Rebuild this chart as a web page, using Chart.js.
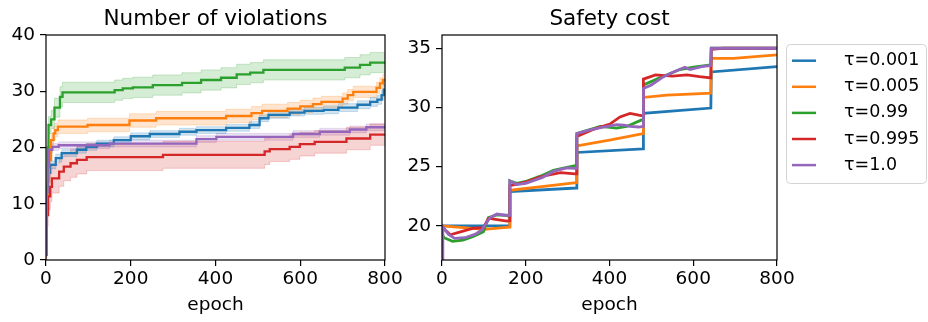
<!DOCTYPE html>
<html><head><meta charset="utf-8">
<script src="https://cdn.jsdelivr.net/npm/chart.js@4"></script>
<style>
html,body{margin:0;padding:0;background:#fff;}
#wrap{position:relative;width:928px;height:322px;overflow:hidden;background:#fff;}
canvas{position:absolute;top:0;}
</style></head><body>
<div id="wrap">
<canvas id="c1" width="410" height="322" style="left:0px"></canvas>
<canvas id="c2" width="528" height="322" style="left:400px"></canvas>
</div>
<script>
// ---------- shared ----------
const seriesLabels = ['τ=0.001', 'τ=0.005', 'τ=0.99', 'τ=0.995', 'τ=1.0'];
const seriesColors = ['#1f77b4', '#ff7f0e', '#2ca02c', '#d62728', '#9467bd'];
const xTicks = [0, 200, 400, 600, 800];
const yTicksLeft = [0, 10, 20, 30, 40];
const yTicksRight = [20, 25, 30, 35];
const titleLeft = 'Number of violations';
const titleRight = 'Safety cost';
const xTitle = 'epoch';

// ---------- Number of violations (step curves: value starts at epoch) ----------
const vioEpochBlue = [0, 2, 5, 10, 23, 37, 73, 95, 120, 160, 200, 245, 315, 355, 425, 480, 504, 525, 575, 610, 655, 690, 735, 765, 782, 792, 797, 800];
const vioBlue      = [1, 12, 15.5, 16.9, 18.1, 19.0, 19.6, 20.1, 20.7, 21.3, 22.0, 22.4, 22.8, 23.1, 23.5, 24.0, 25.2, 25.8, 26.2, 26.5, 26.7, 27.1, 27.6, 28.1, 28.5, 29.3, 30.3, 30.3];
const vioBlueSd    = [0.3, 0.6, 0.7, 0.7, 0.7, 0.6, 0.6, 0.6, 0.6, 0.6, 0.6, 0.6, 0.6, 0.6, 0.6, 0.6, 0.6, 0.6, 0.6, 0.6, 0.7, 0.7, 0.7, 0.8, 0.8, 0.9, 0.9, 0.9];

const vioEpochOrange = [0, 2, 4, 7, 12, 18, 22, 28, 98, 197, 260, 425, 485, 510, 570, 600, 630, 650, 700, 712, 725, 780, 788, 795, 800];
const vioOrange      = [1, 10, 14, 17.8, 21.3, 22.5, 23.1, 23.7, 24.0, 24.8, 25.2, 25.6, 26.1, 26.5, 26.9, 27.3, 27.7, 28.1, 28.7, 29.3, 29.9, 30.6, 31.4, 32.0, 32.0];
const vioOrangeSd    = [0.5, 1.0, 1.1, 1.2, 1.2, 1.2, 1.2, 1.2, 1.2, 1.2, 1.2, 1.2, 1.2, 1.2, 1.1, 1.1, 1.1, 1.0, 1.0, 1.0, 1.0, 1.0, 1.0, 1.0, 1.0];

const vioEpochGreen = [0, 1, 2, 4, 6, 12, 20, 33, 39, 162, 181, 205, 252, 321, 366, 413, 450, 482, 513, 705, 741, 765, 800];
const vioGreen      = [1, 8, 13, 20, 24, 25, 27.1, 29.0, 29.8, 30.2, 30.5, 30.7, 31.1, 31.5, 32.0, 32.4, 33.0, 33.3, 33.8, 34.2, 34.7, 35.1, 35.1];
const vioGreenSd    = [0.5, 1.0, 1.2, 1.4, 1.5, 1.6, 1.7, 1.8, 1.8, 1.8, 1.8, 1.8, 1.8, 1.8, 1.8, 1.8, 1.8, 1.8, 1.8, 1.8, 1.8, 1.8, 1.8];

const vioEpochRed = [0, 2, 5, 10, 14, 31, 42, 58, 73, 96, 276, 516, 528, 575, 599, 634, 709, 765, 800];
const vioRed      = [1, 8, 11.3, 13.0, 14.5, 15.7, 16.6, 17.2, 17.8, 18.3, 18.7, 19.3, 19.7, 20.1, 20.6, 21.0, 21.6, 22.3, 22.3];
const vioRedSd    = [1.0, 2.0, 2.4, 2.6, 2.6, 2.6, 2.5, 2.5, 2.5, 2.4, 2.4, 2.3, 2.2, 2.2, 2.1, 2.0, 2.0, 1.9, 1.9];

const vioEpochPurple = [0, 2, 4, 7, 15, 30, 150, 355, 402, 583, 646, 717, 756, 800];
const vioPurple      = [1, 12, 16.6, 19.6, 20.1, 20.4, 20.7, 21.5, 21.9, 22.4, 22.8, 23.2, 23.6, 23.6];
const vioPurpleSd    = [0.3, 0.6, 0.6, 0.6, 0.6, 0.6, 0.6, 0.6, 0.6, 0.6, 0.6, 0.6, 0.6, 0.6];

// ---------- Safety cost ----------
const costEpochBlue = [0, 161, 162, 321, 322, 480, 481, 642, 643, 800];
const costBlue      = [20.0, 20.0, 22.9, 23.2, 26.2, 26.5, 29.5, 29.95, 33.0, 33.45];

const costEpochOrange = [0, 100, 161, 162, 321, 322, 400, 480, 481, 537, 642, 643, 696, 800];
const costOrange      = [20.0, 19.7, 19.9, 23.0, 23.65, 26.75, 27.25, 27.8, 30.85, 31.05, 31.2, 34.15, 34.15, 34.45];

const costEpochGreen = [0, 5, 25, 50, 75, 99, 104, 111, 131, 150, 161, 162, 179, 200, 235, 266, 298, 321, 322, 378, 417, 441, 477, 480, 481, 520, 568, 600, 642, 643, 800];
const costGreen      = [19.3, 19.0, 18.7, 18.8, 19.1, 19.5, 20.0, 20.7, 20.93, 20.9, 20.8, 23.8, 23.6, 23.75, 24.2, 24.7, 24.95, 25.1, 27.8, 28.4, 28.25, 28.4, 28.95, 29.0, 31.9, 32.5, 33.2, 33.4, 33.6, 35.0, 35.0];

const costEpochRed = [0, 3, 20, 44, 75, 99, 111, 120, 155, 161, 162, 200, 235, 283, 318, 321, 322, 361, 401, 425, 449, 470, 480, 481, 510, 550, 585, 615, 642, 643, 670, 800];
const costRed      = [19.95, 19.8, 19.25, 19.5, 19.8, 19.85, 20.65, 20.6, 20.4, 20.45, 23.4, 23.7, 24.15, 24.5, 24.4, 24.4, 27.55, 28.15, 28.6, 29.2, 29.5, 29.35, 29.3, 32.4, 32.75, 32.65, 32.75, 32.6, 32.5, 34.9, 35.0, 35.0];

const costEpochPurple = [0, 2, 15, 30, 55, 80, 95, 105, 115, 131, 150, 161, 162, 178, 200, 240, 266, 298, 318, 321, 322, 353, 385, 417, 435, 449, 470, 480, 481, 500, 529, 550, 580, 592, 620, 642, 643, 800];
const costPurple      = [16.0, 19.95, 19.3, 18.95, 19.0, 19.3, 19.65, 20.2, 20.7, 21.0, 20.9, 20.9, 23.8, 23.5, 23.6, 24.1, 24.6, 24.9, 24.85, 24.85, 27.8, 28.1, 28.35, 28.55, 28.5, 28.4, 28.35, 28.4, 31.6, 31.9, 32.6, 32.95, 33.4, 33.2, 33.45, 33.55, 35.0, 35.0];

// ---------- helpers ----------
Chart.defaults.font.family = "'DejaVu Sans', sans-serif";
Chart.defaults.color = '#000';
Chart.defaults.animation = false;

function rgba(hex, a) {
  const n = parseInt(hex.slice(1), 16);
  return `rgba(${(n >> 16) & 255},${(n >> 8) & 255},${n & 255},${a})`;
}
function pts(ep, val, sd, sign) {
  return ep.map((e, i) => ({ x: e, y: val[i] + (sd ? sign * sd[i] : 0) }));
}

const axesFrame = {
  id: 'axesFrame',
  afterDraw(chart, args, opts) {
    const { ctx, chartArea: a } = chart;
    ctx.save();
    ctx.strokeStyle = '#000';
    ctx.lineWidth = 1.2;
    ctx.strokeRect(a.left, a.top, a.right - a.left, a.bottom - a.top);
    ctx.fillStyle = '#000';
    ctx.font = opts.fontSize + "px 'DejaVu Sans'";
    ctx.textAlign = 'center';
    ctx.textBaseline = 'alphabetic';
    ctx.fillText(opts.text, (a.left + a.right) / 2, a.top - opts.gap);
    ctx.restore();
  }
};

const boxLegend = {
  id: 'boxLegend',
  afterDraw(chart, args, opts) {
    const ctx = chart.ctx;
    const x0 = opts.x, y0 = opts.y, w = opts.w, h = opts.h, r = 4;
    ctx.save();
    ctx.beginPath();
    ctx.moveTo(x0 + r, y0);
    ctx.arcTo(x0 + w, y0, x0 + w, y0 + h, r);
    ctx.arcTo(x0 + w, y0 + h, x0, y0 + h, r);
    ctx.arcTo(x0, y0 + h, x0, y0, r);
    ctx.arcTo(x0, y0, x0 + w, y0, r);
    ctx.closePath();
    ctx.fillStyle = 'rgba(255,255,255,0.8)';
    ctx.fill();
    ctx.strokeStyle = '#d3d3d3';
    ctx.lineWidth = 1;
    ctx.stroke();
    ctx.font = opts.fontSize + "px 'DejaVu Sans'";
    ctx.textBaseline = 'middle';
    ctx.textAlign = 'left';
    chart.data.datasets.forEach((ds, i) => {
      const y = opts.row0 + i * opts.rowStep;
      ctx.strokeStyle = ds.borderColor;
      ctx.lineWidth = 2.5;
      ctx.beginPath();
      ctx.moveTo(opts.lineX0, y);
      ctx.lineTo(opts.lineX1, y);
      ctx.stroke();
      ctx.fillStyle = '#000';
      ctx.fillText(ds.label, opts.textX, y);
    });
    ctx.restore();
  }
};

function xScale() {
  return {
    type: 'linear', min: 0, max: 800,
    afterBuildTicks: s => { s.ticks = xTicks.map(v => ({ value: v })); },
    afterFit: s => { s.height = 62; },
    grid: { drawOnChartArea: false, drawTicks: true, tickLength: 6, color: '#000', lineWidth: 1.2 },
    border: { display: false },
    ticks: { font: { size: 18.5 }, padding: 2, maxRotation: 0, color: '#000' },
    title: { display: true, text: xTitle, font: { size: 18.5 }, padding: { top: 0, bottom: 6 }, color: '#000' }
  };
}
function yScale(min, max, ticks, width) {
  return {
    type: 'linear', min: min, max: max,
    afterBuildTicks: s => { s.ticks = ticks.map(v => ({ value: v })); },
    afterFit: s => { s.width = width; },
    grid: { drawOnChartArea: false, drawTicks: true, tickLength: 6, color: '#000', lineWidth: 1.2 },
    border: { display: false },
    ticks: { font: { size: 18.5 }, padding: 5, color: '#000' }
  };
}

// ---------- left chart ----------
const vio = [
  [vioEpochBlue, vioBlue, vioBlueSd],
  [vioEpochOrange, vioOrange, vioOrangeSd],
  [vioEpochGreen, vioGreen, vioGreenSd],
  [vioEpochRed, vioRed, vioRedSd],
  [vioEpochPurple, vioPurple, vioPurpleSd]
];
const leftSets = [];
vio.forEach(([ep, v, sd], i) => {
  const c = seriesColors[i];
  leftSets.push({ label: seriesLabels[i] + ' lo', data: pts(ep, v, sd, -1), stepped: true, borderColor: rgba(c, 0.22), borderWidth: 1, pointRadius: 0, fill: false, order: 20 + i });
  leftSets.push({ label: seriesLabels[i] + ' hi', data: pts(ep, v, sd, 1), stepped: true, borderColor: rgba(c, 0.22), borderWidth: 1, backgroundColor: rgba(c, 0.2), pointRadius: 0, fill: '-1', order: 20 + i });
});
vio.forEach(([ep, v], i) => {
  leftSets.push({ label: seriesLabels[i], data: pts(ep, v), stepped: true, borderColor: seriesColors[i], borderWidth: 2.3, pointRadius: 0, fill: false, order: 4 - i });
});

new Chart(document.getElementById('c1'), {
  type: 'line',
  data: { datasets: leftSets },
  options: {
    responsive: false, animation: false,
    layout: { padding: { top: 35, left: 0, right: 25, bottom: 0 } },
    plugins: { legend: { display: false }, tooltip: { enabled: false },
      axesFrame: { text: titleLeft, fontSize: 21.5, gap: 10 } },
    scales: { x: xScale(), y: yScale(0, 40, yTicksLeft, 46) }
  },
  plugins: [axesFrame]
});

// ---------- right chart ----------
const cost = [
  [costEpochBlue, costBlue],
  [costEpochOrange, costOrange],
  [costEpochGreen, costGreen],
  [costEpochRed, costRed],
  [costEpochPurple, costPurple]
];
const rightSets = cost.map(([ep, v], i) => ({
  label: seriesLabels[i], data: pts(ep, v), borderColor: seriesColors[i], borderWidth: 2.8,
  pointRadius: 0, fill: false, tension: 0, order: 4 - i
}));

new Chart(document.getElementById('c2'), {
  type: 'line',
  data: { datasets: rightSets },
  options: {
    responsive: false, animation: false,
    layout: { padding: { top: 35, left: 0, right: 151, bottom: 0 } },
    plugins: { legend: { display: false }, tooltip: { enabled: false },
      axesFrame: { text: titleRight, fontSize: 21.5, gap: 10 },
      boxLegend: { x: 386.5, y: 44.5, w: 140, h: 139, row0: 60.7, rowStep: 26.1, lineX0: 392, lineX1: 416, textX: 444, fontSize: 17.5 } },
    scales: { x: xScale(), y: yScale(17.12, 36.12, yTicksRight, 42) }
  },
  plugins: [axesFrame, boxLegend]
});
</script>
</body></html>
